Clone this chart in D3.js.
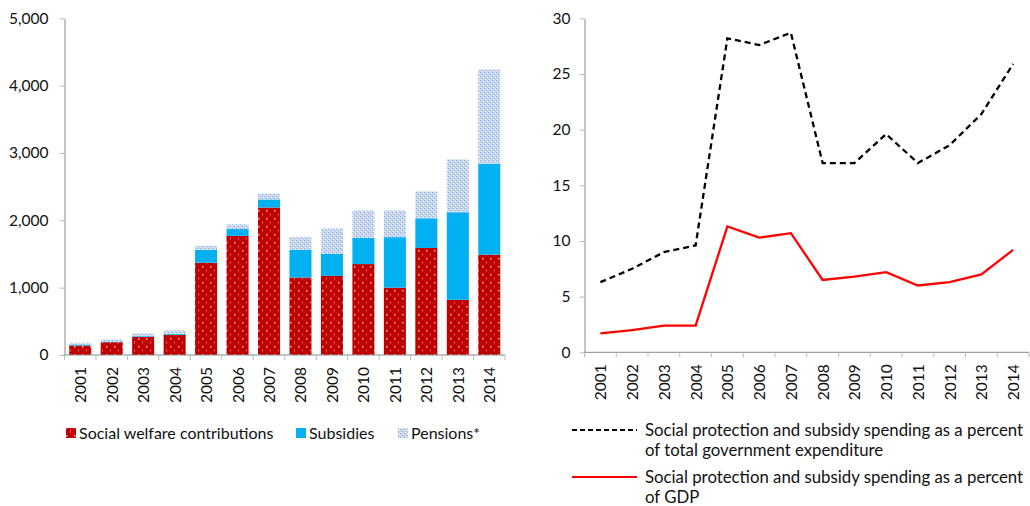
<!DOCTYPE html>
<html>
<head>
<meta charset="utf-8">
<script src="https://cdn.jsdelivr.net/npm/d3@7"></script>
<style>
  body { margin: 0; background: #fff; }
  text { font-family: Lato, "Open Sans", sans-serif; fill: #111; }
</style>
</head>
<body>
<div id="chart-area"></div>
<script>
// Data
var years = ["2001", "2002", "2003", "2004", "2005", "2006", "2007",
  "2008", "2009", "2010", "2011", "2012", "2013", "2014"];
var welfare = [140, 190, 270, 300, 1370, 1770, 2190, 1150, 1175, 1350, 1000, 1590, 820, 1490];
var subsidies = [15, 10, 10, 15, 190, 100, 120, 410, 325, 390, 750, 440, 1300, 1350];
var pensions = [25, 30, 40, 50, 60, 70, 85, 195, 380, 405, 395, 400, 785, 1400];
var pctExpenditure = [6.3, 7.5, 9.0, 9.6, 28.2, 27.6, 28.7, 17.0, 17.0, 19.6, 17.0, 18.6, 21.4, 25.9];
var pctGDP = [1.7, 2.0, 2.4, 2.4, 11.3, 10.3, 10.7, 6.5, 6.8, 7.2, 6.0, 6.3, 7.0, 9.2];
var leftTicks = [0, 1000, 2000, 3000, 4000, 5000];
var rightTicks = [0, 5, 10, 15, 20, 25, 30];
var barKeys = ["Social welfare contributions", "Subsidies", "Pensions*"];
var lineKeys = ["Social protection and subsidy spending as a percent|of total government expenditure",
  "Social protection and subsidy spending as a percent|of GDP"];

var svg = d3.select("#chart-area")
  .append("svg")
  .attr("width", 1030)
  .attr("height", 506);

// Patterns
var defs = svg.append("defs");
var pRed = defs.append("pattern").attr("id", "pRed")
  .attr("patternUnits", "userSpaceOnUse").attr("width", 8).attr("height", 8);
pRed.append("rect").attr("width", 8).attr("height", 8).attr("fill", "#C00000");
pRed.append("rect").attr("x", 2).attr("y", 2).attr("width", 1.5).attr("height", 1.5).attr("fill", "#f2b8b8");
pRed.append("rect").attr("x", 6).attr("y", 5.5).attr("width", 1).attr("height", 2).attr("fill", "#e07878");

var pBlue = defs.append("pattern").attr("id", "pBlue")
  .attr("patternUnits", "userSpaceOnUse").attr("width", 4).attr("height", 4);
pBlue.append("rect").attr("width", 4).attr("height", 4).attr("fill", "#C4D5EC");
pBlue.append("rect").attr("x", 0).attr("y", 0).attr("width", 1).attr("height", 1).attr("fill", "#92AED8");
pBlue.append("rect").attr("x", 2).attr("y", 2).attr("width", 1).attr("height", 1).attr("fill", "#92AED8");
pBlue.append("rect").attr("x", 1).attr("y", 3).attr("width", 1).attr("height", 1).attr("fill", "#ffffff");
pBlue.append("rect").attr("x", 3).attr("y", 1).attr("width", 1).attr("height", 1).attr("fill", "#ffffff");

var fills = ["url(#pRed)", "#00B0F0", "url(#pBlue)"];

// ---------- Left chart ----------
var L = { left: 64.5, right: 505, top: 18.3, bottom: 355 };
var xL = d3.scaleBand().domain(years).range([L.left, L.right]).paddingInner(0.3).paddingOuter(0.15);
var yL = d3.scaleLinear().domain([0, 5000]).range([L.bottom, L.top]);

var rows = years.map(function (y, i) {
  return { year: y, a: welfare[i], b: subsidies[i], c: pensions[i] };
});
var stack = d3.stack().keys(["a", "b", "c"])(rows);

var gL = svg.append("g");
gL.selectAll("g.series").data(stack).enter().append("g")
  .attr("fill", function (d, i) { return fills[i]; })
  .selectAll("rect").data(function (d) { return d; }).enter().append("rect")
  .attr("x", function (d) { return xL(d.data.year); })
  .attr("width", xL.bandwidth())
  .attr("y", function (d) { return yL(d[1]); })
  .attr("height", function (d) { return yL(d[0]) - yL(d[1]); });

// y axis
var yAxL = gL.append("g").attr("transform", "translate(" + L.left + ",0)")
  .call(d3.axisLeft(yL).tickValues(leftTicks).tickSize(5).tickSizeOuter(0).tickFormat(d3.format(",")));
yAxL.select(".domain").attr("stroke", "#888");
yAxL.selectAll(".tick line").attr("stroke", "#bbb");
yAxL.selectAll("text").attr("font-size", 15.5).attr("x", -16).attr("fill", "#111");

// x axis
var xAxL = gL.append("g").attr("transform", "translate(0," + L.bottom + ")");
xAxL.append("line").attr("x1", L.left).attr("x2", L.right).attr("stroke", "#888");
xAxL.selectAll("line.tk").data(d3.range(years.length + 1)).enter().append("line")
  .attr("x1", function (i) { return L.left + i * (L.right - L.left) / years.length; })
  .attr("x2", function (i) { return L.left + i * (L.right - L.left) / years.length; })
  .attr("y1", 0).attr("y2", 5).attr("stroke", "#bbb");
xAxL.selectAll("text").data(years).enter().append("text")
  .attr("transform", function (d) {
    return "translate(" + (xL(d) + xL.bandwidth() / 2 + 6) + ",12) rotate(-90)";
  })
  .attr("text-anchor", "end").attr("font-size", 15.5).text(function (d) { return d; });

// legend
var legL = svg.append("g").attr("transform", "translate(0,433)");
var legX = [66, 296, 398];
barKeys.forEach(function (k, i) {
  legL.append("rect").attr("x", legX[i]).attr("y", -5).attr("width", 10).attr("height", 10).attr("fill", fills[i]);
  legL.append("text").attr("x", legX[i] + 13).attr("y", 6).attr("font-size", 16).text(k);
});

// ---------- Right chart ----------
var R = { left: 584.5, right: 1029, top: 18.3, bottom: 352.3 };
var xR = d3.scaleBand().domain(years).range([R.left, R.right]);
var yR = d3.scaleLinear().domain([0, 30]).range([R.bottom, R.top]);
var gR = svg.append("g");

var yAxR = gR.append("g").attr("transform", "translate(" + R.left + ",0)")
  .call(d3.axisLeft(yR).tickValues(rightTicks).tickSize(5).tickSizeOuter(0));
yAxR.select(".domain").attr("stroke", "#888");
yAxR.selectAll(".tick line").attr("stroke", "#bbb");
yAxR.selectAll("text").attr("font-size", 15.5).attr("x", -14).attr("fill", "#111");

var xAxR = gR.append("g").attr("transform", "translate(0," + R.bottom + ")");
xAxR.append("line").attr("x1", R.left).attr("x2", R.right).attr("stroke", "#888");
xAxR.selectAll("line.tk").data(d3.range(years.length + 1)).enter().append("line")
  .attr("x1", function (i) { return R.left + i * xR.step(); })
  .attr("x2", function (i) { return R.left + i * xR.step(); })
  .attr("y1", 0).attr("y2", 5).attr("stroke", "#bbb");
xAxR.selectAll("text").data(years).enter().append("text")
  .attr("transform", function (d) {
    return "translate(" + (xR(d) + xR.bandwidth() / 2 + 6) + ",12) rotate(-90)";
  })
  .attr("text-anchor", "end").attr("font-size", 15.5).text(function (d) { return d; });

var line = d3.line()
  .x(function (d, i) { return xR(years[i]) + xR.bandwidth() / 2; })
  .y(function (d) { return yR(d); });

var lineStyles = [
  { stroke: "#000", dash: "6,4" },
  { stroke: "#FF0000", dash: null }
];
[pctExpenditure, pctGDP].forEach(function (s, i) {
  gR.append("path").datum(s)
    .attr("d", line)
    .attr("fill", "none")
    .attr("stroke", lineStyles[i].stroke)
    .attr("stroke-width", 2.3)
    .attr("stroke-dasharray", lineStyles[i].dash);
});

// legend
var legR = svg.append("g");
var legY = [430, 477];
lineKeys.forEach(function (k, i) {
  legR.append("line").attr("x1", 572).attr("x2", 637).attr("y1", legY[i]).attr("y2", legY[i])
    .attr("stroke", lineStyles[i].stroke).attr("stroke-width", 2)
    .attr("stroke-dasharray", lineStyles[i].dash ? "5,3" : null);
  var parts = k.split("|");
  parts.forEach(function (p, j) {
    legR.append("text").attr("x", 645).attr("y", legY[i] + 6 + j * 20)
      .attr("font-size", 16.8).text(p);
  });
});
</script>
</body>
</html>
